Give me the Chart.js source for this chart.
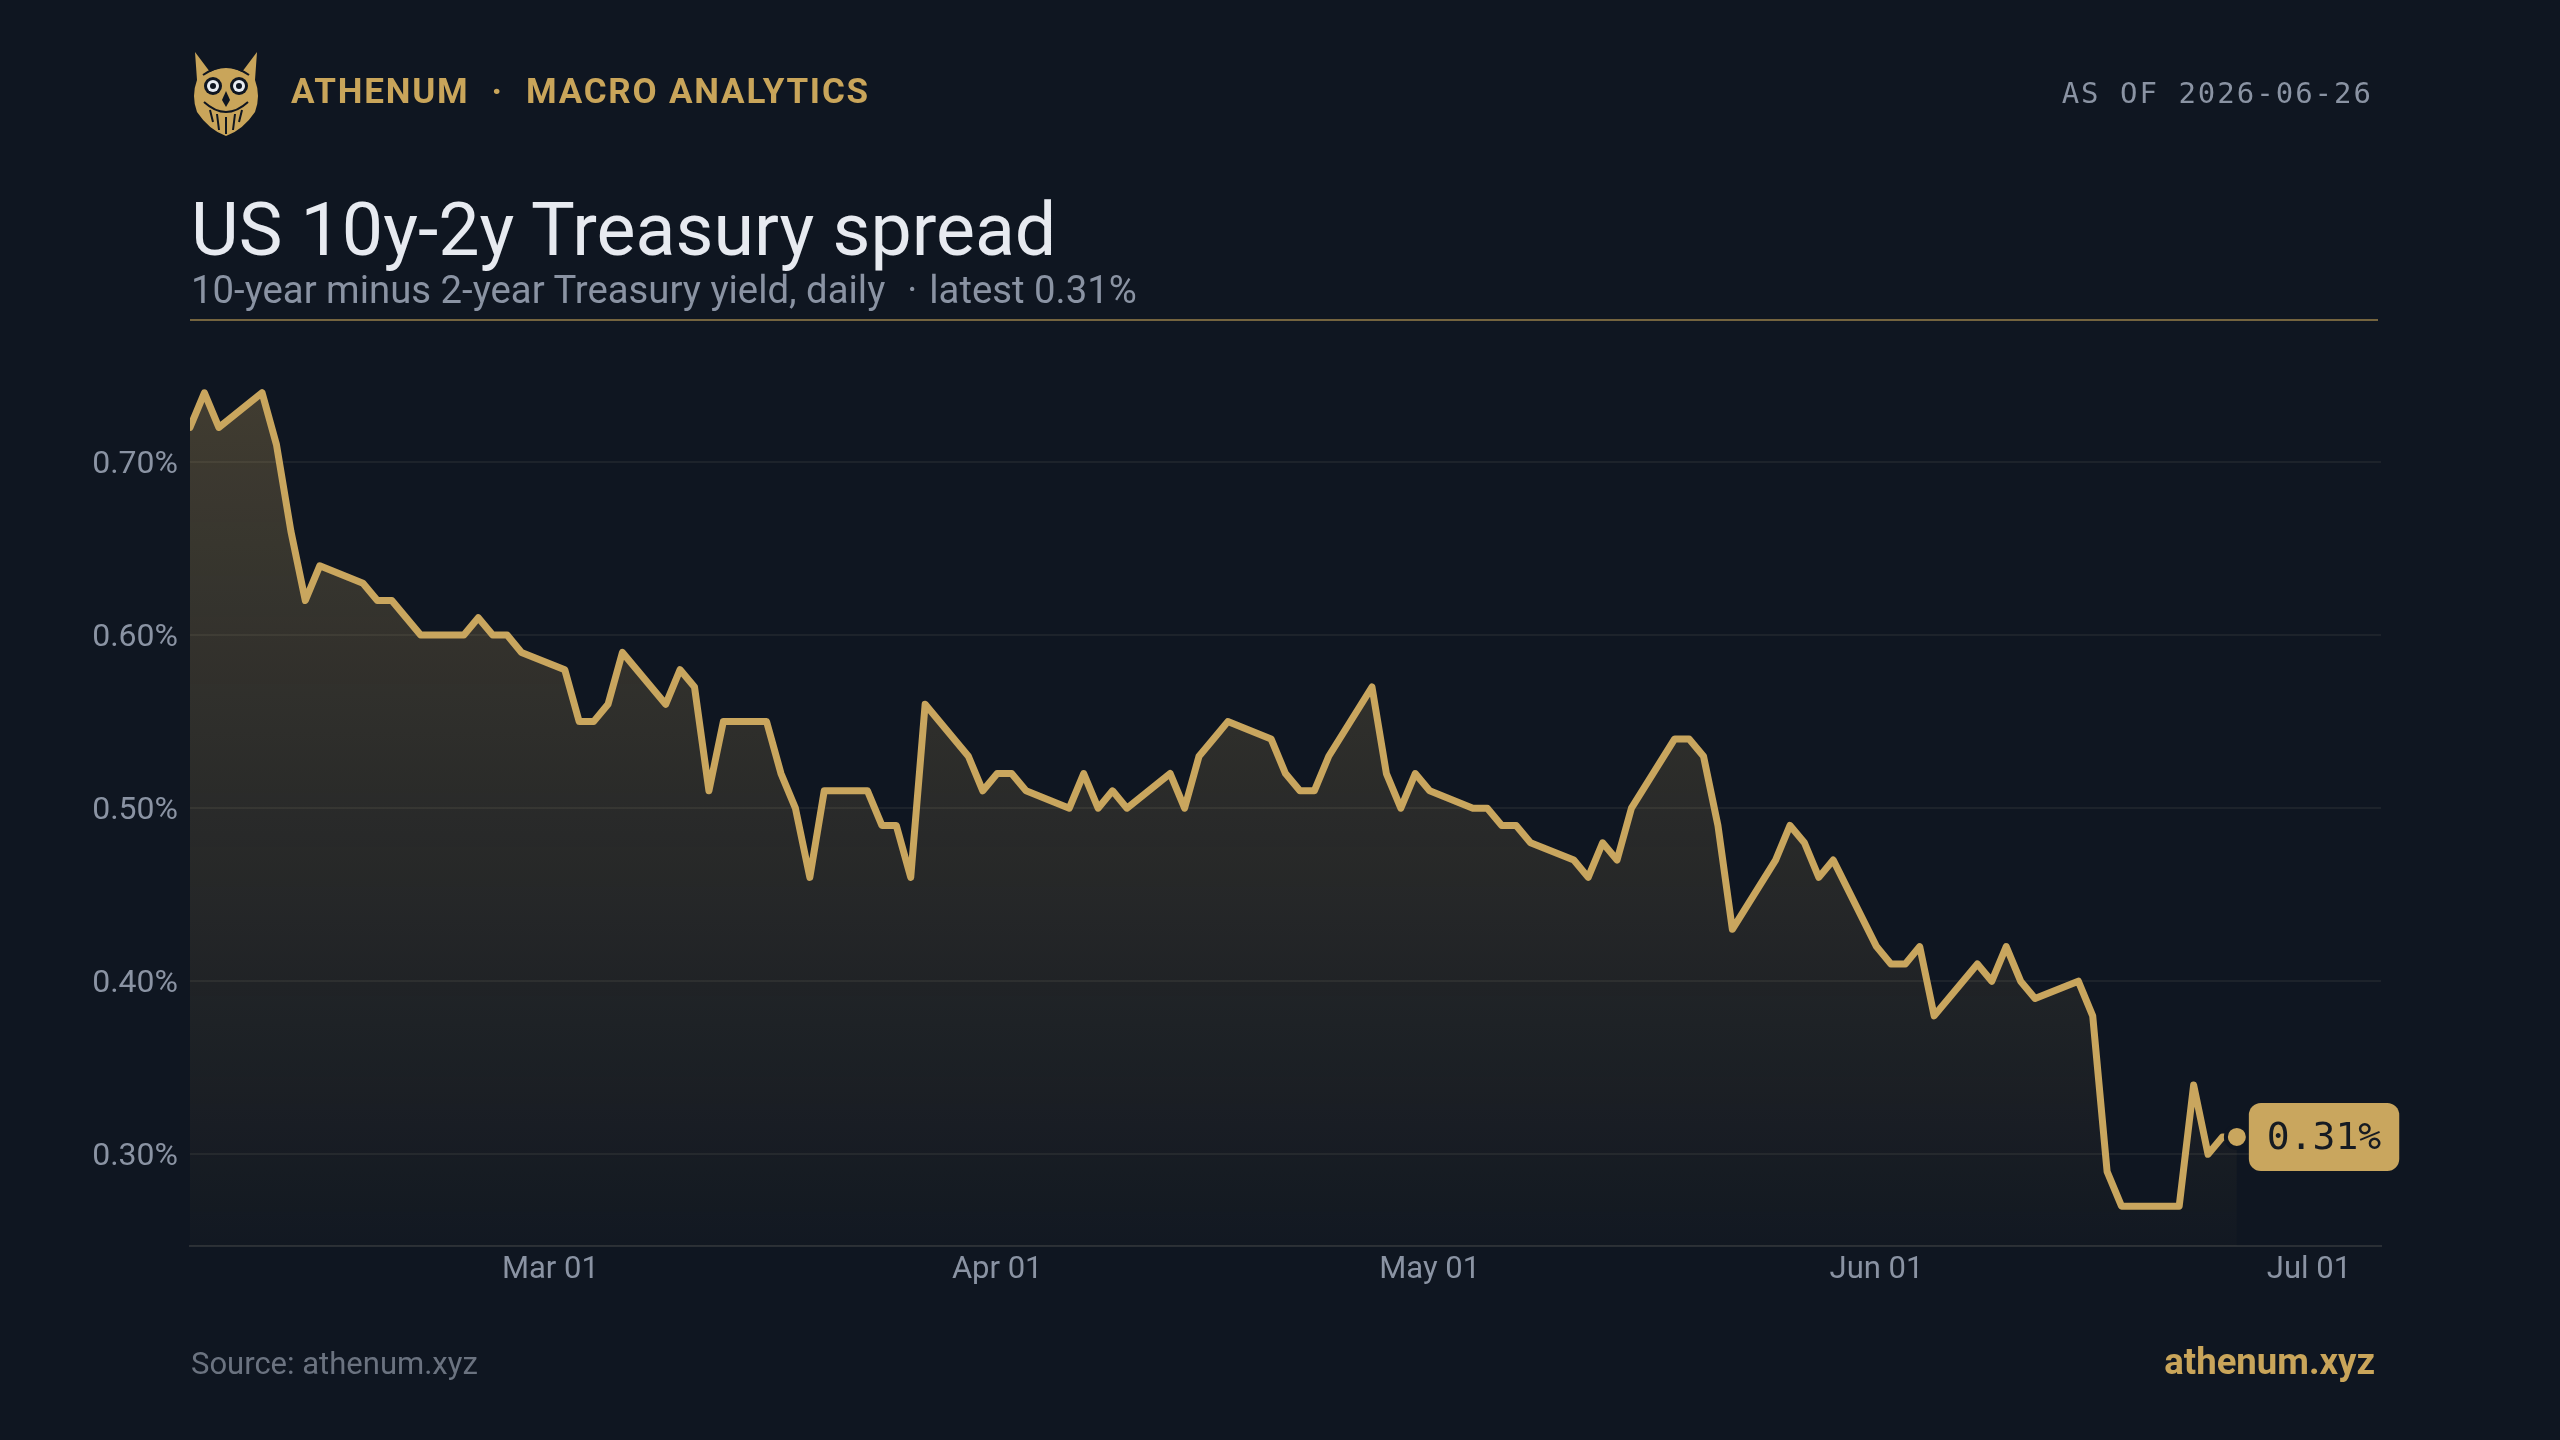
<!DOCTYPE html>
<html>
<head>
<meta charset="utf-8">
<script src="https://cdn.jsdelivr.net/npm/chart.js@4.4.1/dist/chart.umd.min.js"></script>
<style>
  html, body { margin: 0; padding: 0; }
  body { width: 2560px; height: 1440px; background: #0f1621; position: relative; overflow: hidden; font-family: Roboto, "Noto Sans", sans-serif; }
  #chart { position: absolute; left: 0; top: 0; }
  .abs { position: absolute; line-height: 1; white-space: nowrap; }
  .logo { left: 191px; top: 50px; width: 70px; height: 86px; position: absolute; }
  .brand { left: 291px; top: 74px; font-size: 35px; font-weight: 700; color: #c9a55a; letter-spacing: 1.8px; }
  .brand .dot { margin: 0 22px; }
  .asof { right: 187px; top: 79px; font-family: "DejaVu Sans Mono", monospace; font-size: 29px; color: #8a93a3; letter-spacing: 2px; }
  .title { left: 191px; top: 194px; font-size: 73.5px; font-weight: 400; color: #e7eaf0; }
  .sub { left: 191px; top: 271px; font-size: 38.3px; color: #8a93a3; }
  .sub .dot { margin: 0 12px 0 22px; }
  .rule { position: absolute; left: 190px; top: 319px; width: 2188px; height: 2px; background: rgba(201,165,90,0.55); }
  .source { left: 191px; top: 1348px; font-size: 31px; color: #6b7380; }
  .site { right: 185px; top: 1344px; font-size: 36.5px; font-weight: 700; color: #c9a55a; }
</style>
</head>
<body>
<canvas id="chart" width="2560" height="1440"></canvas>

<svg class="logo" viewBox="0 0 70 86">
  <path d="M4 2 L19 22 Q35 13 51 22 L66 2 L64 30 Q70 46 64 62 Q52 80 35 86 Q18 80 6 62 Q0 46 6 30 Z" fill="#c9a55a"/>
  <path d="M12 25 Q35 9 58 25" stroke="#0f1621" stroke-width="2" fill="none"/>
  <circle cx="22" cy="36" r="9" fill="#0f1621"/>
  <circle cx="48" cy="36" r="9" fill="#0f1621"/>
  <circle cx="22" cy="36" r="6" fill="#e8ecf2"/>
  <circle cx="48" cy="36" r="6" fill="#e8ecf2"/>
  <circle cx="22" cy="36" r="3" fill="#0f1621"/>
  <circle cx="48" cy="36" r="3" fill="#0f1621"/>
  <path d="M35 41 L31 50 L35 57 L39 50 Z" fill="#0f1621"/>
  <path d="M13 52 Q35 72 57 52" stroke="#0f1621" stroke-width="2" fill="none"/>
  <path d="M26 64 L28 80 M35 67 L35 84 M44 64 L42 80 M19 60 L22 72 M51 60 L48 72" stroke="#0f1621" stroke-width="2" fill="none"/>
</svg>
<div class="abs brand">ATHENUM<span class="dot">·</span>MACRO ANALYTICS</div>
<div class="abs asof">AS OF 2026-06-26</div>
<div class="abs title">US 10y-2y Treasury spread</div>
<div class="abs sub">10-year minus 2-year Treasury yield, daily<span class="dot">·</span>latest 0.31%</div>
<div class="rule"></div>
<div class="abs source">Source: athenum.xyz</div>
<div class="abs site">athenum.xyz</div>

<script>
// daily observations (weekdays)
const dates = [
  "2026-02-04", "2026-02-05", "2026-02-06",
  "2026-02-09", "2026-02-10", "2026-02-11", "2026-02-12", "2026-02-13",
  "2026-02-16", "2026-02-17", "2026-02-18", "2026-02-19", "2026-02-20",
  "2026-02-23", "2026-02-24", "2026-02-25", "2026-02-26", "2026-02-27",
  "2026-03-02", "2026-03-03", "2026-03-04", "2026-03-05", "2026-03-06",
  "2026-03-09", "2026-03-10", "2026-03-11", "2026-03-12", "2026-03-13",
  "2026-03-16", "2026-03-17", "2026-03-18", "2026-03-19", "2026-03-20",
  "2026-03-23", "2026-03-24", "2026-03-25", "2026-03-26", "2026-03-27",
  "2026-03-30", "2026-03-31", "2026-04-01", "2026-04-02", "2026-04-03",
  "2026-04-06", "2026-04-07", "2026-04-08", "2026-04-09", "2026-04-10",
  "2026-04-13", "2026-04-14", "2026-04-15", "2026-04-16", "2026-04-17",
  "2026-04-20", "2026-04-21", "2026-04-22", "2026-04-23", "2026-04-24",
  "2026-04-27", "2026-04-28", "2026-04-29", "2026-04-30", "2026-05-01",
  "2026-05-04", "2026-05-05", "2026-05-06", "2026-05-07", "2026-05-08",
  "2026-05-11", "2026-05-12", "2026-05-13", "2026-05-14", "2026-05-15",
  "2026-05-18", "2026-05-19", "2026-05-20", "2026-05-21", "2026-05-22",
  "2026-05-25", "2026-05-26", "2026-05-27", "2026-05-28", "2026-05-29",
  "2026-06-01", "2026-06-02", "2026-06-03", "2026-06-04", "2026-06-05",
  "2026-06-08", "2026-06-09", "2026-06-10", "2026-06-11", "2026-06-12",
  "2026-06-15", "2026-06-16", "2026-06-17", "2026-06-18", "2026-06-19",
  "2026-06-22", "2026-06-23", "2026-06-24", "2026-06-25", "2026-06-26"
];

const spread = [
  0.72, 0.74, 0.72,
  0.74, 0.71, 0.66, 0.62, 0.64,
  0.63, 0.62, 0.62, 0.61, 0.60,
  0.60, 0.61, 0.60, 0.60, 0.59,
  0.58, 0.55, 0.55, 0.56, 0.59,
  0.56, 0.58, 0.57, 0.51, 0.55,
  0.55, 0.52, 0.50, 0.46, 0.51,
  0.51, 0.49, 0.49, 0.46, 0.56,
  0.53, 0.51, 0.52, 0.52, 0.51,
  0.50, 0.52, 0.50, 0.51, 0.50,
  0.52, 0.50, 0.53, 0.54, 0.55,
  0.54, 0.52, 0.51, 0.51, 0.53,
  0.57, 0.52, 0.50, 0.52, 0.51,
  0.50, 0.50, 0.49, 0.49, 0.48,
  0.47, 0.46, 0.48, 0.47, 0.50,
  0.54, 0.54, 0.53, 0.49, 0.43,
  0.47, 0.49, 0.48, 0.46, 0.47,
  0.42, 0.41, 0.41, 0.42, 0.38,
  0.41, 0.40, 0.42, 0.40, 0.39,
  0.40, 0.38, 0.29, 0.27, 0.27,
  0.27, 0.34, 0.30, 0.31, 0.31
];

const tickDates = ["2026-03-01", "2026-04-01", "2026-05-01", "2026-06-01", "2026-07-01"];
const tickLabels = ["Mar 01", "Apr 01", "May 01", "Jun 01", "Jul 01"];
const yTicks = [0.30, 0.40, 0.50, 0.60, 0.70];

const GOLD = "#c9a65e";
const BG = "#0f1621";

function toDay(s) {
  return Date.UTC(+s.slice(0, 4), +s.slice(5, 7) - 1, +s.slice(8, 10)) / 86400000;
}

const points = dates.map((d, i) => ({ x: toDay(d), y: spread[i] }));
const last = points.length - 1;

const endLabel = {
  id: "endLabel",
  afterDatasetsDraw(chart) {
    const el = chart.getDatasetMeta(0).data[last];
    const ctx = chart.ctx;
    const txt = spread[last].toFixed(2) + "%";
    ctx.save();
    ctx.font = "38px 'DejaVu Sans Mono', monospace";
    const w = ctx.measureText(txt).width + 36;
    const h = 68;
    const x = el.x + 12;
    const y = el.y - h / 2;
    ctx.fillStyle = GOLD;
    ctx.beginPath();
    ctx.roundRect(x, y, w, h, 12);
    ctx.fill();
    ctx.fillStyle = "#161b22";
    ctx.textBaseline = "middle";
    ctx.fillText(txt, x + 18, el.y + 2);
    ctx.restore();
  }
};

const ctx = document.getElementById("chart").getContext("2d");

var chart = new Chart(ctx, {
  type: "line",
  data: {
    datasets: [
      {
        label: "10y-2y",
        data: points,
        borderColor: GOLD,
        borderWidth: 7,
        borderJoinStyle: "round",
        borderCapStyle: "round",
        tension: 0,
        fill: "start",
        backgroundColor: (c) => {
          const a = c.chart.chartArea;
          if (!a) return "rgba(201,166,94,0.15)";
          const g = c.chart.ctx.createLinearGradient(0, a.top, 0, a.bottom);
          g.addColorStop(0, "rgba(201,166,94,0.28)");
          g.addColorStop(1, "rgba(201,166,94,0.02)");
          return g;
        },
        pointRadius: (c) => (c.dataIndex === last ? 11 : 0),
        pointBackgroundColor: GOLD,
        pointBorderColor: BG,
        pointBorderWidth: 4,
        pointHoverRadius: 0,
      },
    ],
  },
  options: {
    responsive: false,
    animation: false,
    devicePixelRatio: 1,
    layout: { padding: { left: 40, right: 179, top: 353, bottom: 134 } },
    plugins: { legend: { display: false }, tooltip: { enabled: false } },
    scales: {
      x: {
        type: "linear",
        min: toDay("2026-02-04"),
        max: toDay("2026-07-06"),
        afterBuildTicks: (s) => { s.ticks = tickDates.map((d) => ({ value: toDay(d) })); },
        afterFit: (s) => { s.height = 60; },
        grid: { display: false, drawTicks: false },
        border: { display: true, color: "#2a2f35", width: 2 },
        ticks: {
          autoSkip: false,
          maxRotation: 0,
          padding: 6,
          color: "#8a93a3",
          font: { family: "Roboto", size: 31 },
          callback: (v, i) => tickLabels[i],
        },
      },
      y: {
        min: 0.247,
        max: 0.763,
        afterBuildTicks: (s) => { s.ticks = yTicks.map((v) => ({ value: v })); },
        afterFit: (s) => { s.width = 150; },
        grid: { color: "#1d232b", lineWidth: 2, drawTicks: false },
        border: { display: false },
        ticks: {
          padding: 12,
          labelOffset: 3,
          color: "#8a93a3",
          font: { family: "Roboto", size: 32 },
          callback: (v) => v.toFixed(2) + "%",
        },
      },
    },
  },
  plugins: [endLabel],
});
</script>
</body>
</html>
